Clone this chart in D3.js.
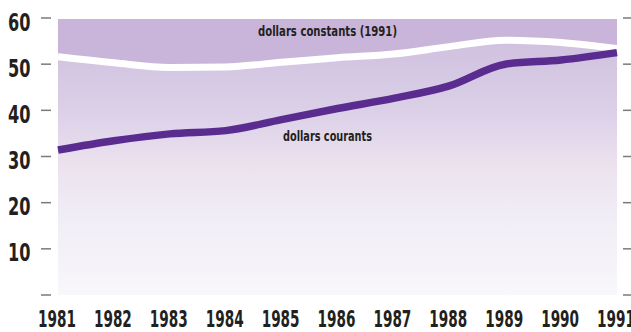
<!DOCTYPE html>
<html>
<head>
<meta charset="utf-8">
<script src="https://cdn.jsdelivr.net/npm/d3@7"></script>
<style>
  html, body { margin: 0; padding: 0; background: #ffffff; }
  svg { display: block; }
  text { font-family: "DejaVu Sans", sans-serif; font-weight: bold; fill: #231f20; }
</style>
</head>
<body>
<svg id="chart" width="631" height="332"></svg>
<script>
// Years on the horizontal axis
const years = [1981, 1982, 1983, 1984, 1985, 1986, 1987, 1988, 1989, 1990, 1991];
// Current dollars
const currentDollars = [31.4, 33.4, 34.9, 35.6, 38.0, 40.4, 42.6, 45.3, 50.0, 50.9, 52.5];
// Constant 1991 dollars
const constantDollars = [51.6, 50.3, 49.3, 49.4, 50.4, 51.4, 52.2, 53.8, 55.2, 54.7, 53.4];
// Vertical axis ticks
const yTicks = [0, 10, 20, 30, 40, 50, 60];
const yTickLabels = ["", "10", "20", "30", "40", "50", "60"];
const labelConstant = "dollars constants (1991)";
const labelCurrent = "dollars courants";

const svg = d3.select("#chart");
const plot = { left: 58, right: 617, top: 18, bottom: 295 };

const x = d3.scaleLinear().domain([1981, 1991]).range([plot.left, plot.right]);
const y = d3.scaleLinear().domain([0, 60]).range([plot.bottom, plot.top]);

// Background gradient for the plotting area
const defs = svg.append("defs");
const grad = defs.append("linearGradient")
  .attr("id", "bg").attr("x1", 0).attr("y1", 0).attr("x2", 0).attr("y2", 1);
[
  [0.00, "#cdbcde"],
  [0.20, "#d5c8e3"],
  [0.35, "#dcd1e8"],
  [0.52, "#ebe1ee"],
  [0.70, "#f0ecf5"],
  [1.00, "#f8f7fb"]
].forEach(([o, c]) => grad.append("stop").attr("offset", o).attr("stop-color", c));

svg.append("rect")
  .attr("x", plot.left).attr("y", y(60) + 1)
  .attr("width", plot.right - plot.left)
  .attr("height", plot.bottom - y(60) - 1)
  .attr("fill", "url(#bg)");

const data = years.map((yr, i) => ({ year: yr, cur: currentDollars[i], con: constantDollars[i] }));
const curve = d3.curveMonotoneX;

// Darker band above the constant-dollar line
svg.append("path")
  .datum(data)
  .attr("fill", "#c8b5d9")
  .attr("d", d3.area().curve(curve)
    .x(d => x(d.year))
    .y0(y(60) + 1)
    .y1(d => y(d.con)));

// Constant-dollar line (white)
svg.append("path")
  .datum(data)
  .attr("fill", "none")
  .attr("stroke", "#ffffff")
  .attr("stroke-width", 7)
  .attr("d", d3.line().curve(curve).x(d => x(d.year)).y(d => y(d.con)));

// Current-dollar line (purple)
svg.append("path")
  .datum(data)
  .attr("fill", "none")
  .attr("stroke", "#5a2c90")
  .attr("stroke-width", 7.5)
  .attr("d", d3.line().curve(curve).x(d => x(d.year)).y(d => y(d.cur)));

// Tick dashes on both sides
const tickG = svg.append("g");
yTicks.forEach(v => {
  tickG.append("line").attr("x1", 41).attr("x2", 51).attr("y1", y(v)).attr("y2", y(v))
    .attr("stroke", "#7a7a7a").attr("stroke-width", 1.5);
  tickG.append("line").attr("x1", 623).attr("x2", 631).attr("y1", y(v)).attr("y2", y(v))
    .attr("stroke", "#7a7a7a").attr("stroke-width", 1.5);
});

// Vertical axis labels (condensed)
yTicks.forEach((v, i) => {
  if (!yTickLabels[i]) return;
  svg.append("text")
    .attr("transform", `translate(8,${y(v) + 12.5}) scale(0.66,1)`)
    .attr("font-size", 24.5)
    .text(yTickLabels[i]);
});

// Year labels (condensed)
years.forEach(yr => {
  svg.append("text")
    .attr("transform", `translate(${x(yr) - 1},327) scale(0.58,1)`)
    .attr("text-anchor", "middle")
    .attr("font-size", 23.5)
    .text(yr);
});

// Series labels
svg.append("text")
  .attr("x", 258).attr("y", 36)
  .attr("font-size", 14.5)
  .attr("textLength", 139).attr("lengthAdjust", "spacingAndGlyphs")
  .text(labelConstant);

svg.append("text")
  .attr("x", 283).attr("y", 141)
  .attr("font-size", 14.5)
  .attr("textLength", 89).attr("lengthAdjust", "spacingAndGlyphs")
  .text(labelCurrent);
</script>
</body>
</html>
